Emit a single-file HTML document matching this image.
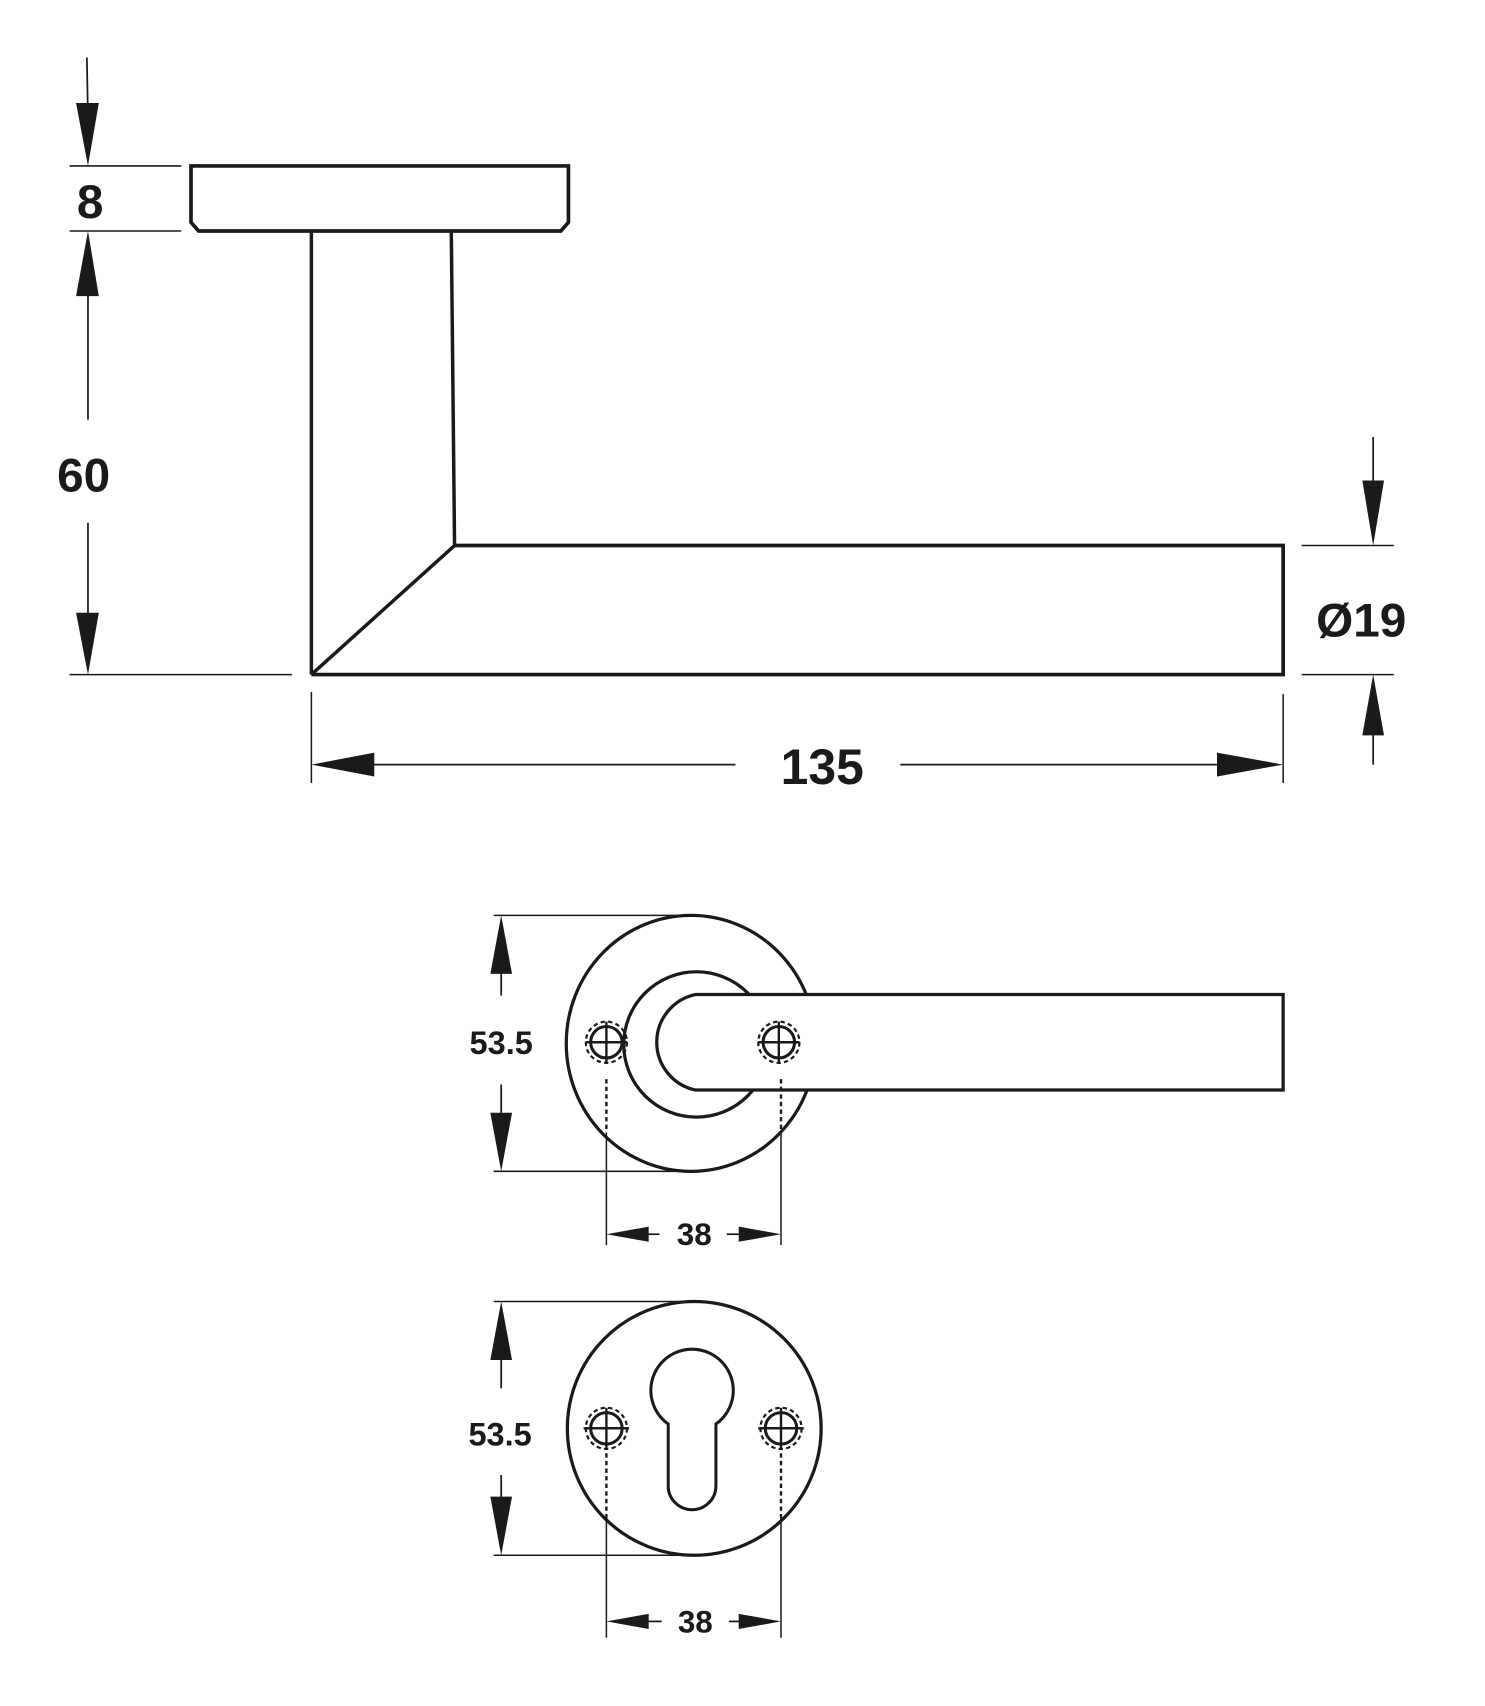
<!DOCTYPE html>
<html><head><meta charset="utf-8"><style>
html,body{margin:0;padding:0;background:#fff;}
svg{display:block;}
text{font-family:"Liberation Sans",sans-serif;font-weight:bold;fill:#1a1a1a;}
</style></head><body>
<svg width="1485" height="1706" viewBox="0 0 1369 1573" xmlns="http://www.w3.org/2000/svg">
<defs>
<g id="hole">
  <circle r="14.5" fill="#fff" stroke="#1a1a1a" stroke-width="2.8"/>
  <circle r="19" fill="none" stroke="#1a1a1a" stroke-width="2" stroke-dasharray="4 3"/>
  <line x1="-19" y1="0" x2="19" y2="0" stroke="#1a1a1a" stroke-width="2.2"/>
  <line x1="0" y1="-19" x2="0" y2="19" stroke="#1a1a1a" stroke-width="2.2"/>
</g>
</defs>
<g stroke="#1a1a1a" fill="none">
  <line x1="80" y1="53" x2="81" y2="110" stroke-width="1.6"/>
  <polygon points="70,95 91,95 81,153" fill="#1a1a1a" stroke="none"/>
  <line x1="64" y1="153" x2="167" y2="153" stroke-width="1.4"/>
  <line x1="64" y1="213" x2="167" y2="213" stroke-width="1.4"/>
  <polygon points="81,213 70,273 91,273" fill="#1a1a1a" stroke="none"/>
  <line x1="81" y1="270" x2="81" y2="387" stroke-width="1.6"/>
  <line x1="81" y1="482" x2="81" y2="580" stroke-width="1.6"/>
  <polygon points="70,565 91,565 81,622" fill="#1a1a1a" stroke="none"/>
  <line x1="64" y1="622" x2="269" y2="622" stroke-width="1.4"/>

  <polygon points="176,153 524,153 524,205 517,213 183,213 176,205" stroke-width="3.4" fill="#fff"/>
  <line x1="287" y1="213" x2="287" y2="622" stroke-width="3.2"/>
  <line x1="416" y1="213" x2="419" y2="503" stroke-width="3.2"/>
  <line x1="287" y1="622" x2="419" y2="503" stroke-width="3.2"/>
  <polyline points="419,503 1183,503 1183,622 287,622" stroke-width="3.4"/>

  <line x1="287" y1="638" x2="287" y2="722" stroke-width="1.4"/>
  <line x1="1183" y1="640" x2="1183" y2="722" stroke-width="1.4"/>
  <line x1="300" y1="705" x2="678" y2="705" stroke-width="1.6"/>
  <line x1="830" y1="705" x2="1170" y2="705" stroke-width="1.6"/>
  <polygon points="287,705 345,694 345,716" fill="#1a1a1a" stroke="none"/>
  <polygon points="1183,705 1122,694 1122,716" fill="#1a1a1a" stroke="none"/>

  <line x1="1200" y1="503" x2="1285" y2="503" stroke-width="1.4"/>
  <line x1="1200" y1="622" x2="1285" y2="622" stroke-width="1.4"/>
  <line x1="1266" y1="403" x2="1266" y2="460" stroke-width="1.6"/>
  <polygon points="1256,443 1276,443 1266,503" fill="#1a1a1a" stroke="none"/>
  <polygon points="1266,622 1256,678 1276,678" fill="#1a1a1a" stroke="none"/>
  <line x1="1266" y1="670" x2="1266" y2="705" stroke-width="1.6"/>

  <line x1="455" y1="844" x2="637" y2="844" stroke-width="1.4"/>
  <line x1="455" y1="1080" x2="637" y2="1080" stroke-width="1.4"/>
  <line x1="462" y1="860" x2="462" y2="918" stroke-width="1.6"/>
  <line x1="462" y1="1000" x2="462" y2="1065" stroke-width="1.6"/>
  <polygon points="462,844 452,898 472,898" fill="#1a1a1a" stroke="none"/>
  <polygon points="462,1080 452,1026 472,1026" fill="#1a1a1a" stroke="none"/>
  <ellipse cx="637" cy="962" rx="115" ry="118" stroke-width="3" fill="#fff"/>
  <circle cx="642" cy="963" r="67" stroke-width="3" fill="#fff"/>
  <path d="M1183 917 H641 A45 45 0 0 0 641 1005 H1183 Z" stroke-width="3" fill="#fff"/>
  <use href="#hole" x="559" y="961"/>
  <use href="#hole" x="718" y="961"/>
  <line x1="559" y1="995" x2="559" y2="1044" stroke-width="2.2" stroke-dasharray="4 3"/>
  <line x1="720" y1="995" x2="720" y2="1044" stroke-width="2.2" stroke-dasharray="4 3"/>
  <line x1="559" y1="1044" x2="559" y2="1148" stroke-width="1.4"/>
  <line x1="720" y1="1044" x2="720" y2="1148" stroke-width="1.4"/>
  <polygon points="559,1138 598,1131 598,1145" fill="#1a1a1a" stroke="none"/>
  <line x1="596" y1="1138" x2="608" y2="1138" stroke-width="1.6"/>
  <polygon points="720,1138 681,1131 681,1145" fill="#1a1a1a" stroke="none"/>
  <line x1="670" y1="1138" x2="682" y2="1138" stroke-width="1.6"/>

  <line x1="455" y1="1200" x2="640" y2="1200" stroke-width="1.4"/>
  <line x1="455" y1="1434" x2="640" y2="1434" stroke-width="1.4"/>
  <line x1="462" y1="1215" x2="462" y2="1280" stroke-width="1.6"/>
  <line x1="462" y1="1360" x2="462" y2="1420" stroke-width="1.6"/>
  <polygon points="462,1200 452,1254 472,1254" fill="#1a1a1a" stroke="none"/>
  <polygon points="462,1434 452,1380 472,1380" fill="#1a1a1a" stroke="none"/>
  <ellipse cx="640" cy="1317" rx="117" ry="117" stroke-width="3" fill="#fff"/>
  <path d="M616 1313 A38 38 0 1 1 660 1313 L660 1370 A22 22 0 0 1 616 1370 Z" stroke-width="2.8"/>
  <use href="#hole" x="559" y="1317"/>
  <use href="#hole" x="720" y="1317"/>
  <line x1="538" y1="1317" x2="580" y2="1317" stroke-width="2.2"/>
  <line x1="699" y1="1317" x2="741" y2="1317" stroke-width="2.2"/>
  <line x1="559" y1="1340" x2="559" y2="1400" stroke-width="2.2" stroke-dasharray="4 3"/>
  <line x1="720" y1="1340" x2="720" y2="1400" stroke-width="2.2" stroke-dasharray="4 3"/>
  <line x1="559" y1="1400" x2="559" y2="1510" stroke-width="1.4"/>
  <line x1="720" y1="1400" x2="720" y2="1510" stroke-width="1.4"/>
  <polygon points="559,1495 598,1488 598,1502" fill="#1a1a1a" stroke="none"/>
  <line x1="596" y1="1495" x2="610" y2="1495" stroke-width="1.6"/>
  <polygon points="720,1495 681,1488 681,1502" fill="#1a1a1a" stroke="none"/>
  <line x1="672" y1="1495" x2="682" y2="1495" stroke-width="1.6"/>
</g>
<text x="83" y="201" font-size="44" text-anchor="middle">8</text>
<text x="77" y="453" font-size="44" text-anchor="middle">60</text>
<text x="758" y="723" font-size="46" text-anchor="middle">135</text>
<text x="1255" y="587" font-size="44" text-anchor="middle">Ø19</text>
<text x="462" y="972" font-size="30" text-anchor="middle">53.5</text>
<text x="640" y="1148" font-size="29" text-anchor="middle">38</text>
<text x="461" y="1333" font-size="30" text-anchor="middle">53.5</text>
<text x="641" y="1505" font-size="29" text-anchor="middle">38</text>
</svg>
</body></html>
